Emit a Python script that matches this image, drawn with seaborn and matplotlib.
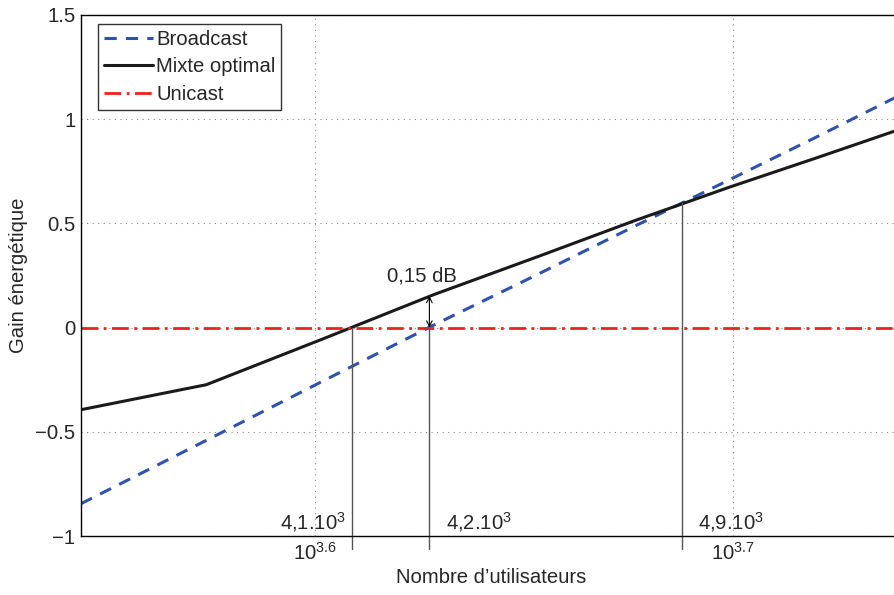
import numpy as np
import pandas as pd
import matplotlib
matplotlib.use('Agg')
import matplotlib.pyplot as plt
import seaborn as sn

# data
N = [3500, 3750, 4000, 4250, 4500, 4750, 5000, 5250, 5500]
broadcast = [-0.845, -0.541, -0.255, 0.012, 0.255, 0.489, 0.708, 0.917, 1.120]
mixte = [-0.394, -0.274, -0.053, 0.158, 0.340, 0.515, 0.673, 0.816, 0.955]
unicast = [0, 0, 0, 0, 0, 0, 0, 0, 0]
seuils = [4063, 4240, 4873]
seuils_y = [0.0, 0.0, 0.596]
seuil_labels = ['4,1.10$^3$', '4,2.10$^3$', '4,9.10$^3$']

sn.set_style('white')
plt.rcParams['font.family'] = ['Liberation Sans', 'DejaVu Sans']
plt.rcParams['mathtext.fontset'] = 'custom'
plt.rcParams['mathtext.rm'] = 'Liberation Sans'
plt.rcParams['mathtext.it'] = 'Liberation Sans'

fs = 14.6
df = pd.DataFrame({'N': N, 'Broadcast': broadcast, 'Mixte optimal': mixte, 'Unicast': unicast})

fig = plt.figure(figsize=(8.95, 5.95), dpi=100)
ax = fig.add_axes([81/895, 59/595, 821/895, 521/595])
ax.set_xscale('log')

sn.lineplot(data=df, x='N', y='Broadcast', color='#2e52b0', lw=2.2, dashes=False, ls=(0, (4, 3)), label='Broadcast', ax=ax)
sn.lineplot(data=df, x='N', y='Mixte optimal', color='#1a1a1a', lw=2.2, label='Mixte optimal', ax=ax)
sn.lineplot(data=df, x='N', y='Unicast', color='#ee2020', lw=2.0, ls=(0, (6, 2, 1, 2)), label='Unicast', ax=ax)

ax.set_xlim(3500, 5500)
ax.set_ylim(-1, 1.5)
ax.set_yticks([-1, -0.5, 0, 0.5, 1, 1.5])
ax.set_yticklabels(['\u22121', '\u22120.5', '0', '0.5', '1', '1.5'])
ax.set_xticks([10**3.6, 10**3.7])
ax.set_xticklabels(['$10^{3.6}$', '$10^{3.7}$'])
ax.xaxis.set_minor_locator(matplotlib.ticker.NullLocator())
ax.tick_params(direction='in', labelsize=fs, length=5, color='k', pad=4)
ax.grid(True, ls=(0, (1, 4)), color='#888888', lw=0.8)
for s in ax.spines.values():
    s.set_color('k') ; s.set_linewidth(1.0)
ax.set_xlabel("Nombre d\u2019utilisateurs", fontsize=fs, labelpad=3)
ax.set_ylabel('Gain \u00e9nerg\u00e9tique', fontsize=fs, labelpad=5)

# seuils
for xs, ys, lab, i in zip(seuils, seuils_y, seuil_labels, range(3)):
    ax.plot([xs, xs], [ys, -1.06], color='#555555', lw=1.0, clip_on=False)
    if i == 0:
        ax.text(xs*0.9965, -0.966, lab, fontsize=fs, ha='right', va='baseline')
    else:
        ax.text(xs*1.009, -0.966, lab, fontsize=fs, ha='left', va='baseline')

ax.annotate('', xy=(4240, 0.152), xytext=(4240, 0.0),
            arrowprops=dict(arrowstyle='<->', color='k', lw=0.8, shrinkA=0, shrinkB=0))
ax.text(4222, 0.222, '0,15 dB', fontsize=fs, ha='center', va='baseline')

leg = ax.legend(loc='upper left', bbox_to_anchor=(0.021, 0.983), fontsize=fs, frameon=True, fancybox=False,
                edgecolor='k', handlelength=2.4, handletextpad=0.15, borderpad=0.3, labelspacing=0.42,
                borderaxespad=0)
leg.get_frame().set_linewidth(1.0)

fig.savefig('out.png', dpi=100)
